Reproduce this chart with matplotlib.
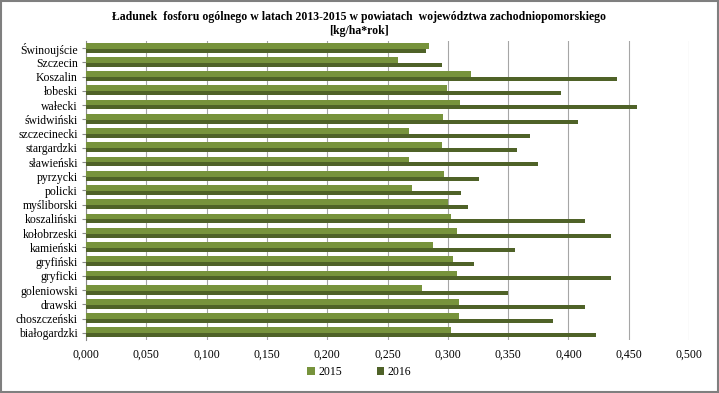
import matplotlib.pyplot as plt
from matplotlib.ticker import FuncFormatter
import numpy as np

plt.rcParams['font.family'] = ['Liberation Serif', 'DejaVu Serif']

# dane - od dołu wykresu do góry
powiaty = ['białogardzki', 'choszczeński', 'drawski', 'goleniowski', 'gryficki',
           'gryfiński', 'kamieński', 'kołobrzeski', 'koszaliński', 'myśliborski',
           'policki', 'pyrzycki', 'sławieński', 'stargardzki', 'szczecinecki',
           'świdwiński', 'wałecki', 'łobeski', 'Koszalin', 'Szczecin', 'Świnoujście']
val_2015 = [0.303, 0.309, 0.309, 0.279, 0.308, 0.304, 0.288, 0.308, 0.303, 0.300,
            0.270, 0.297, 0.268, 0.295, 0.268, 0.296, 0.310, 0.299, 0.319, 0.259, 0.284]
val_2016 = [0.423, 0.387, 0.414, 0.350, 0.435, 0.322, 0.356, 0.435, 0.414, 0.317,
            0.311, 0.326, 0.375, 0.357, 0.368, 0.408, 0.457, 0.394, 0.440, 0.295, 0.282]
lata = ['2015', '2016']
x_ticks = [0.0, 0.05, 0.1, 0.15, 0.2, 0.25, 0.3, 0.35, 0.4, 0.45, 0.5]

fig = plt.figure(figsize=(7.19, 3.93), dpi=100)
ax = fig.add_axes([86 / 719, 1 - 340 / 393, (689 - 86) / 719, (340 - 41) / 393])

y = np.arange(len(powiaty))
ax.barh(y + 0.17, val_2015, height=0.42, color='#77933C', label=lata[0], zorder=3)
ax.barh(y - 0.17, val_2016, height=0.28, color='#4F6228', label=lata[1], zorder=3)

ax.set_xlim(0, 0.5)
ax.set_ylim(-0.5, len(powiaty) - 0.5)
ax.set_xticks(x_ticks)
ax.xaxis.set_major_formatter(FuncFormatter(lambda v, p: f'{v:.3f}'.replace('.', ',')))
ax.set_yticks(y)
ax.set_yticklabels(powiaty)
ax.tick_params(axis='both', labelsize=8.5, length=0, pad=6)
ax.tick_params(axis='y', length=3, color='#888888', pad=3)
ax.grid(axis='x', color='#a6a6a6', linewidth=0.8, zorder=0)
for s in ['top', 'right', 'bottom']:
    ax.spines[s].set_visible(False)
ax.spines['left'].set_color('#888888')

fig.text(0.5, 1 - 17 / 393, 'Ładunek  fosforu ogólnego w latach 2013-2015 w powiatach  województwa zachodniopomorskiego',
         ha='center', va='center', fontsize=8.5, fontweight='bold')
fig.text(0.5, 1 - 31 / 393, '[kg/ha*rok]', ha='center', va='center', fontsize=8.5, fontweight='bold')

fig.legend(loc='center', bbox_to_anchor=(0.5, 1 - 372 / 393), ncol=2, frameon=False,
           fontsize=8.5, handlelength=0.6, handleheight=0.6, columnspacing=3, handletextpad=0.3)

fig.patches.append(plt.Rectangle((0.002, 0.003), 0.996, 0.994, transform=fig.transFigure,
                                 fill=False, edgecolor='#7f7f7f', linewidth=1.5))

fig.savefig('out.png', dpi=100)
